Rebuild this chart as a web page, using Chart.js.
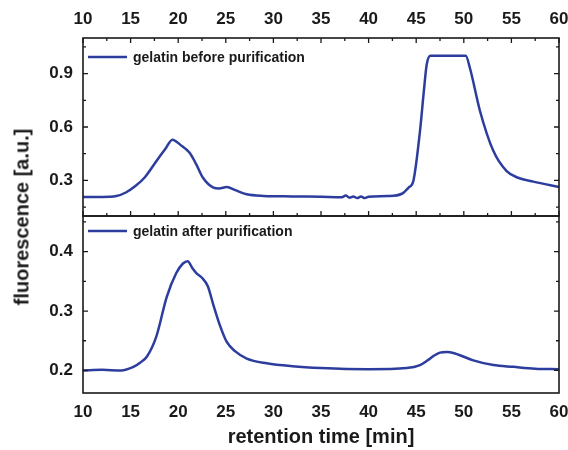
<!DOCTYPE html>
<html>
<head>
<meta charset="utf-8">
<script src="https://cdn.jsdelivr.net/npm/chart.js@4.4.1/dist/chart.umd.min.js"></script>
<style>
  body { margin: 0; background: #fff; }
  #wrap { position: relative; width: 568px; height: 450px; overflow: hidden; }
  canvas { position: absolute; left: 0; }
  #topChart { top: 0; }
  #bottomChart { top: 206px; }
  #yTitle {
    position: absolute; left: 22px; top: 217px;
    transform: translate(-50%, -50%) rotate(-90deg);
    font: bold 20px 'Liberation Sans', Arial, sans-serif;
    color: #1a1a1a; white-space: nowrap;
  }
</style>
</head>
<body>
<div id="wrap">
  <canvas id="topChart" width="568" height="220"></canvas>
  <canvas id="bottomChart" width="568" height="244"></canvas>
  <div id="yTitle">fluorescence [a.u.]</div>
</div>
<script>
// retention time axis
const xTicks = [10, 15, 20, 25, 30, 35, 40, 45, 50, 55, 60];
const yTicksTop = [0.3, 0.6, 0.9];
const yTicksBottom = [0.2, 0.3, 0.4];

// gelatin before purification
const timeBefore = [10, 12, 13.5, 14.5, 15.5, 16.5, 17.7, 18.6, 19.4, 20.2, 21.2, 21.9, 22.6, 23.7, 24.3, 25.1,
  26, 27.2, 29, 32, 35, 37.2, 37.6, 38, 38.4, 38.8, 39.2, 39.6, 40, 42, 43.5, 44.2, 44.7, 45.4, 45.8, 46.1, 46.5,
  50.2, 50.65, 51.7, 53.1, 54.5, 55.7, 57.3, 60];
const fluorBefore = [0.207, 0.207, 0.212, 0.232, 0.268, 0.318, 0.408, 0.473, 0.529, 0.501, 0.455, 0.39, 0.315, 0.26, 0.255, 0.263,
  0.245, 0.222, 0.213, 0.21, 0.208, 0.206, 0.215, 0.203, 0.21, 0.201, 0.209, 0.201, 0.208, 0.212, 0.225, 0.26, 0.297, 0.578, 0.8, 0.95, 1.0,
  1.0, 0.93, 0.69, 0.466, 0.352, 0.315, 0.293, 0.263];

// gelatin after purification
const timeAfter = [10, 12, 14, 15.3, 16, 16.7, 17.7, 18.8, 19.8, 20.5, 21, 21.5, 21.9, 22.5, 23.1, 23.7, 24.4, 25.1,
  26, 27.2, 29.3, 32, 35, 40, 44, 45.4, 46.2, 46.8, 47.5, 48.2, 49, 50, 51, 53.1, 55.2, 57.5, 60];
const fluorAfter = [0.2, 0.201, 0.2, 0.206, 0.213, 0.223, 0.257, 0.324, 0.364, 0.38, 0.384, 0.372, 0.364, 0.356, 0.342, 0.31, 0.275, 0.248,
  0.232, 0.22, 0.212, 0.207, 0.204, 0.202, 0.204, 0.209, 0.217, 0.224, 0.23, 0.231, 0.229, 0.223, 0.217, 0.209, 0.206, 0.203, 0.202];

const lineColor = '#2c3d9e';
const inkColor = '#1a1a1a';
const fontFamily = "'Liberation Sans', Arial, sans-serif";

// frame, inward ticks and in-plot legend
const framePlugin = {
  id: 'frameTicks',
  afterDraw(chart, args, opts) {
    const { ctx, chartArea: a, scales: { x, y } } = chart;
    ctx.save();
    ctx.strokeStyle = inkColor;
    ctx.lineWidth = 1.6;
    ctx.strokeRect(a.left, a.top, a.right - a.left, a.bottom - a.top);

    ctx.lineWidth = 1.3;
    const xStep = (xTicks[1] - xTicks[0]) / 2;
    for (let v = xTicks[0]; v <= xTicks[xTicks.length - 1] + 1e-9; v += xStep) {
      const px = x.getPixelForValue(v);
      const len = Math.abs((v - xTicks[0]) % (2 * xStep)) < 1e-9 ? 5 : 3;
      ctx.beginPath();
      if (opts.xTop) { ctx.moveTo(px, a.top); ctx.lineTo(px, a.top + len); }
      if (opts.xBottom) { ctx.moveTo(px, a.bottom); ctx.lineTo(px, a.bottom - len); }
      ctx.stroke();
    }

    const yt = opts.yTicks;
    const yStep = (yt[1] - yt[0]) / 2;
    const start = yt[0] - Math.floor((yt[0] - y.min) / yStep) * yStep;
    for (let v = start; v <= y.max + 1e-9; v += yStep) {
      const py = y.getPixelForValue(v);
      const major = yt.some(t => Math.abs(t - v) < 1e-6);
      const len = major ? 5 : 3;
      ctx.beginPath();
      ctx.moveTo(a.left, py); ctx.lineTo(a.left + len, py);
      ctx.moveTo(a.right, py); ctx.lineTo(a.right - len, py);
      ctx.stroke();
    }

    // legend entry
    const ly = a.top + opts.legendOffset;
    ctx.strokeStyle = lineColor;
    ctx.lineWidth = 2.5;
    ctx.beginPath();
    ctx.moveTo(a.left + 5, ly);
    ctx.lineTo(a.left + 44, ly);
    ctx.stroke();
    ctx.fillStyle = inkColor;
    ctx.font = 'bold 14px ' + fontFamily;
    ctx.textBaseline = 'middle';
    ctx.fillText(chart.data.datasets[0].label, a.left + 50, ly + 1);
    ctx.restore();
  }
};

// chart area must not shrink for overhanging tick labels
function noPad(s) {
  s.paddingTop = 0; s.paddingBottom = 0; s.paddingLeft = 0; s.paddingRight = 0;
}

function makeChart(id, label, times, values, yMin, yMax, yTicks, top) {
  const tickFont = { family: fontFamily, size: 17, weight: 'bold' };
  new Chart(document.getElementById(id), {
    type: 'line',
    data: {
      datasets: [{
        label: label,
        data: times.map((t, i) => ({ x: t, y: values[i] })),
        borderColor: lineColor,
        borderWidth: 2.5,
        pointRadius: 0,
        cubicInterpolationMode: 'monotone',
        fill: false
      }]
    },
    plugins: [framePlugin],
    options: {
      responsive: false,
      animation: false,
      layout: { padding: top ? { left: 0, right: 9, top: 0, bottom: 4 } : { left: 0, right: 9, top: 10, bottom: 0 } },
      plugins: {
        legend: { display: false },
        tooltip: { enabled: false },
        frameTicks: { xTop: top, xBottom: top, yTicks: yTicks, legendOffset: top ? 19 : 15 }
      },
      scales: {
        x: {
          type: 'linear',
          position: top ? 'top' : 'bottom',
          min: 10, max: 60,
          afterBuildTicks: s => { s.ticks = xTicks.map(v => ({ value: v })); },
          afterFit: s => { s.height = top ? 38 : 57; noPad(s); },
          grid: { display: false, drawTicks: false },
          border: { display: false },
          ticks: { color: inkColor, font: tickFont, padding: top ? 8 : 9, maxRotation: 0 },
          title: top ? { display: false } : {
            display: true, text: 'retention time [min]', color: inkColor,
            font: { family: fontFamily, size: 20, weight: 'bold' }, padding: { top: 0, bottom: 1 }
          }
        },
        y: {
          min: yMin, max: yMax,
          afterBuildTicks: s => { s.ticks = yTicks.map(v => ({ value: v })); },
          afterFit: s => { s.width = 83; noPad(s); },
          grid: { display: false, drawTicks: false },
          border: { display: false },
          ticks: { color: inkColor, font: tickFont, padding: 10, callback: v => v.toFixed(1) }
        }
      }
    }
  });
}

makeChart('topChart', 'gelatin before purification', timeBefore, fluorBefore, 0.1, 1.1, yTicksTop, true);
makeChart('bottomChart', 'gelatin after purification', timeAfter, fluorAfter, 0.162, 0.46, yTicksBottom, false);
</script>
</body>
</html>
